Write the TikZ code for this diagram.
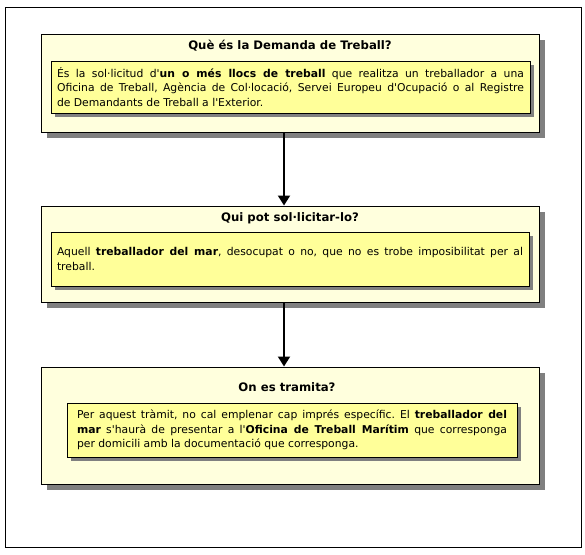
\documentclass[tikz,border=0pt]{standalone}
\usepackage{fontspec}
\setmainfont{DejaVu Sans}
\usepackage{tikz}
\usetikzlibrary{positioning, arrows.meta, shadows}

\definecolor{paleyellow}{RGB}{255,255,221}
\definecolor{notepad}{RGB}{255,255,153}
\definecolor{shadowgray}{RGB}{128,128,128}
\frenchspacing

\begin{document}
\begin{tikzpicture}[
        x=1pt, y=-1pt,
        outerbox/.style={rectangle, draw=black, line width=1pt, fill=paleyellow, minimum width=498pt,
            general shadow={fill=shadowgray, shadow xshift=6pt, shadow yshift=-6pt}},
        innerbox/.style={rectangle, draw=black, line width=1pt, fill=notepad, inner sep=0pt, align=justify,
            general shadow={fill=shadowgray, shadow xshift=4pt, shadow yshift=-4pt},
            font=\fontsize{10.8}{14.3}\selectfont},
        heading/.style={font=\fontsize{11.7}{13}\selectfont\bfseries},
        arrow/.style={-{Triangle[length=10pt, width=12pt]}, line width=2pt}
    ]

    \useasboundingbox (0,0) rectangle (585,554);
    \draw[line width=1pt] (5,7) rectangle (581,547);

    % first block
    \node[outerbox, minimum height=98pt] (what) at (290,83) {};
    \node[heading] (whatT) at (290,46) {Què és la Demanda de Treball?};
    \node[innerbox, minimum width=479pt, minimum height=52pt, text width=467pt] (whatN) at (290.5,87)
        {És la sol·licitud d\textquotesingle\textbf{un o més llocs de treball} que realitza un treballador a una\linebreak
         Oficina de Treball, Agència de Col·locació, Servei Europeu d\textquotesingle Ocupació o al Registre\linebreak
         de Demandants de Treball a l\textquotesingle Exterior.};

    % second block
    \node[outerbox, minimum height=96pt] (who) at (290,254) {};
    \node[heading] (whoT) at (290,218) {Qui pot sol·licitar-lo?};
    \node[innerbox, minimum width=478pt, minimum height=54pt, text width=466pt] (whoN) at (290,259)
        {Aquell \textbf{treballador del mar}, desocupat o no, que no es trobe imposibilitat per al\linebreak
         treball.};

    % third block
    \node[outerbox, minimum height=117pt] (where) at (290,425.5) {};
    \node[heading] (whereT) at (287,387) {On es tramita?};
    \node[innerbox, minimum width=450pt, minimum height=54pt, text width=430pt] (whereN) at (292,430)
        {Per aquest tràmit, no cal emplenar cap imprés específic. El \textbf{treballador del}\linebreak
         \textbf{mar} s\textquotesingle haurà de presentar a l\textquotesingle\textbf{Oficina de Treball Marítim} que corresponga\linebreak
         per domicili amb la documentació que corresponga.};

    \draw[arrow] ([xshift=-6pt]what.south) -- ([xshift=-6pt]who.north);
    \draw[arrow] ([xshift=-6pt]who.south) -- ([xshift=-6pt]where.north);

\end{tikzpicture}
\end{document}
